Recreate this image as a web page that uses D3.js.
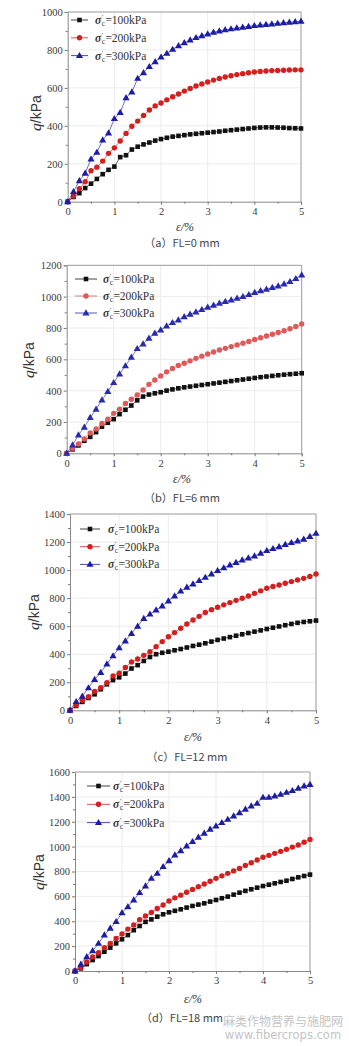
<!DOCTYPE html>
<html><head><meta charset="utf-8">
<script src="https://cdn.jsdelivr.net/npm/d3@7"></script>
<style>
html,body{margin:0;padding:0;background:#fff;}
svg{display:block;}
</style></head>
<body>
<svg id="chart" width="349" height="1046"></svg>
<script>
// ---------- data ----------
const strainPct = [0,0.125,0.25,0.375,0.5,0.625,0.75,0.875,1,1.125,1.25,1.375,1.5,1.625,1.75,1.875,2,2.125,2.25,2.375,2.5,2.625,2.75,2.875,3,3.125,3.25,3.375,3.5,3.625,3.75,3.875,4,4.125,4.25,4.375,4.5,4.625,4.75,4.875,5];

const seriesNames = ["100kPa","200kPa","300kPa"];
const captions = ["（a）FL=0 mm","（b）FL=6 mm","（c）FL=12 mm","（d）FL=18 mm"];
const xTicks = [0,1,2,3,4,5];
const yTicksA = [0,200,400,600,800,1000];
const yTicksB = [0,200,400,600,800,1000,1200];
const yTicksC = [0,200,400,600,800,1000,1200,1400];
const yTicksD = [0,200,400,600,800,1000,1200,1400,1600];

// (a) FL=0 mm
const qA100 = [0,25,45,72,95,120,145,168,185,235,245,275,290,302,312,322,330,337,343,347,351,355,358,361,364,367,370,374,377,380,383,386,389,391,392,392,391,390,388,387,386];
const qA200 = [0,30,68,105,163,182,214,255,284,320,360,398,425,455,483,505,520,537,553,568,583,597,610,621,631,641,650,657,664,670,675,680,684,687,689,691,692,693,694,695,695];
const qA300 = [0,53,110,150,225,260,325,362,438,470,548,578,650,680,712,738,762,782,803,822,838,852,865,875,884,893,900,906,911,916,920,924,928,931,934,937,940,943,946,949,951];
// (b) FL=6 mm
const qB100 = [0,25,50,80,105,135,170,195,218,250,278,305,338,362,375,383,390,400,408,415,421,426,431,436,441,446,451,456,461,466,471,476,481,486,490,494,498,502,505,508,511];
const qB200 = [0,32,60,92,130,155,190,217,255,281,318,345,372,404,440,468,494,520,542,560,575,590,606,620,634,647,659,670,681,692,703,714,726,738,749,760,771,782,795,810,826];
const qB300 = [0,53,117,166,228,281,340,394,451,506,558,613,668,698,734,766,787,813,834,851,872,887,902,917,932,945,958,969,979,990,1000,1013,1026,1037,1047,1058,1068,1081,1096,1115,1138];
// (c) FL=12 mm
const qC100 = [0,31,60,88,114,150,185,215,235,262,298,322,352,380,400,410,418,428,437,448,459,468,478,490,502,512,522,532,542,551,561,570,580,589,598,607,616,624,630,635,640];
const qC200 = [0,38,72,97,135,162,197,245,265,305,345,366,392,418,454,490,525,554,585,615,644,670,697,718,735,752,768,784,799,815,834,852,870,883,894,906,918,930,941,955,972];
const qC300 = [0,62,100,160,220,270,330,388,445,494,548,600,655,686,715,744,780,815,850,877,901,925,948,972,996,1016,1036,1054,1072,1086,1100,1120,1139,1153,1167,1182,1196,1208,1220,1240,1262];
// (d) FL=18 mm
const qD100 = [0,21,55,88,120,155,188,222,255,289,328,362,395,415,437,456,472,484,496,510,523,534,544,558,571,585,598,614,630,644,657,670,683,694,705,716,726,740,753,764,775];
const qD200 = [0,29,72,112,147,188,222,262,297,337,370,412,442,470,503,531,563,588,610,633,656,678,699,722,745,765,785,805,825,848,870,892,914,930,946,962,978,996,1013,1036,1058];
const qD300 = [0,54,115,163,222,289,343,397,469,517,571,630,683,745,785,839,887,933,967,1005,1040,1075,1107,1139,1166,1193,1219,1246,1273,1300,1327,1348,1396,1396,1407,1420,1436,1450,1469,1487,1500];

// ---------- layout / style ----------
const panels = [
  {series:[qA100,qA200,qA300], yTicks:yTicksA, box:{l:67.7,r:301,t:12,b:201.7}, red:"#d41f1f", blue:"#1c1ca6",
   legend:{x1:71,x2:88,tx:95,y0:20,dy:17.8}, ylab:{x:41,y:113}, xlab:{x:185,y:231}, cap:{x:182,y:247}},
  {series:[qB100,qB200,qB300], yTicks:yTicksB, box:{l:66.7,r:301.7,t:265.3,b:453.3}, red:"#e05858", blue:"#2a2ab0",
   legend:{x1:75,x2:97,tx:103,y0:279,dy:17}, ylab:{x:34,y:360}, xlab:{x:182,y:483}, cap:{x:182,y:502}},
  {series:[qC100,qC200,qC300], yTicks:yTicksC, box:{l:70,r:316,t:514,b:710.3}, red:"#d41f1f", blue:"#1c1ca6",
   legend:{x1:80,x2:100,tx:108,y0:529,dy:17.7}, ylab:{x:39,y:612}, xlab:{x:193,y:741}, cap:{x:187,y:761}},
  {series:[qD100,qD200,qD300], yTicks:yTicksD, box:{l:75,r:310,t:772,b:971}, red:"#d41f1f", blue:"#1c1ca6",
   legend:{x1:87,x2:110,tx:113,y0:786,dy:18.3}, ylab:{x:44,y:872}, xlab:{x:193,y:1003}, cap:{x:182,y:1022}}
];
const serif = "'Liberation Serif','DejaVu Serif',serif";

const svg = d3.select("#chart");

function marker(g, kind, x, y, color) {
  if (kind === 0) {
    g.append("rect").attr("x", x-2.3).attr("y", y-2.3).attr("width", 4.6).attr("height", 4.6).attr("fill", color);
  } else if (kind === 1) {
    g.append("circle").attr("cx", x).attr("cy", y).attr("r", 2.7).attr("fill", color);
  } else {
    g.append("path").attr("d", d3.symbol(d3.symbolTriangle, 22)()).attr("transform", `translate(${x},${y+0.4})`).attr("fill", color);
  }
}

panels.forEach((p, pi) => {
  const yMax = p.yTicks[p.yTicks.length-1];
  const x = d3.scaleLinear().domain([0,5]).range([p.box.l, p.box.r]);
  const y = d3.scaleLinear().domain([0,yMax]).range([p.box.b, p.box.t]);
  const g = svg.append("g");
  const colors = ["#111", p.red, p.blue];

  // grid
  g.append("g").selectAll("line").data(xTicks.slice(1,-1)).join("line")
    .attr("x1", d=>x(d)).attr("x2", d=>x(d)).attr("y1", p.box.t).attr("y2", p.box.b)
    .attr("stroke", "#ececec").attr("stroke-width", 1);
  g.append("g").selectAll("line").data(p.yTicks.slice(1,-1)).join("line")
    .attr("y1", d=>y(d)).attr("y2", d=>y(d)).attr("x1", p.box.l).attr("x2", p.box.r)
    .attr("stroke", "#ececec").attr("stroke-width", 1);

  // axes
  const step = p.yTicks[1]-p.yTicks[0];
  const yMinor = d3.range(step/2, yMax, step).filter(v => p.yTicks.indexOf(v) < 0);
  const xMinor = [0.5,1.5,2.5,3.5,4.5];

  g.append("g").attr("transform", `translate(0,${p.box.b})`)
    .call(d3.axisBottom(x).tickValues(xTicks).tickFormat(d3.format("d")).tickSize(3).tickPadding(3))
    .attr("font-family", serif);
  g.append("g").attr("transform", `translate(0,${p.box.b})`)
    .call(d3.axisBottom(x).tickValues(xMinor).tickFormat("").tickSize(2))
    .call(a => a.select(".domain").remove());
  g.append("g").attr("transform", `translate(${p.box.l},0)`)
    .call(d3.axisLeft(y).tickValues(p.yTicks).tickFormat(d3.format("d")).tickSize(3).tickPadding(2))
    .attr("font-family", serif);
  g.append("g").attr("transform", `translate(${p.box.l},0)`)
    .call(d3.axisLeft(y).tickValues(yMinor).tickFormat("").tickSize(2))
    .call(a => a.select(".domain").remove());
  g.selectAll(".tick line").attr("stroke", "#777");
  g.selectAll(".domain").attr("stroke", "#888");
  g.selectAll(".tick text").attr("font-family", serif).attr("font-size", 10.5).attr("fill", "#3a3a3a");

  // frame top/right
  g.append("line").attr("x1", p.box.l).attr("x2", p.box.r).attr("y1", p.box.t).attr("y2", p.box.t).attr("stroke", "#999");
  g.append("line").attr("x1", p.box.r).attr("x2", p.box.r).attr("y1", p.box.t).attr("y2", p.box.b).attr("stroke", "#999");

  // series
  p.series.forEach((vals, si) => {
    const pts = strainPct.map((s, i) => [x(s), y(vals[i])]);
    g.append("path").attr("d", d3.line()(pts)).attr("fill", "none")
      .attr("stroke", colors[si]).attr("stroke-width", 0.8).attr("opacity", 0.8);
    const mg = g.append("g");
    pts.forEach(pt => marker(mg, si, pt[0], pt[1], colors[si]));
  });

  // legend
  seriesNames.forEach((name, si) => {
    const ly = p.legend.y0 + si * p.legend.dy;
    g.append("line").attr("x1", p.legend.x1).attr("x2", p.legend.x2).attr("y1", ly).attr("y2", ly)
      .attr("stroke", colors[si]).attr("stroke-width", 0.8);
    marker(g, si, (p.legend.x1+p.legend.x2)/2, ly, colors[si]);
    const t = g.append("text").attr("x", p.legend.tx).attr("y", ly+4)
      .attr("font-family", serif).attr("font-size", 11.5).attr("fill", "#333");
    t.append("tspan").attr("font-style", "italic").attr("font-weight", "bold").text("σ");
    t.append("tspan").attr("dx", 0.5).attr("dy", -5).attr("font-size", 7).text("′");
    t.append("tspan").attr("dx", -1.5).attr("dy", 7).attr("font-size", 7.5).text("c");
    t.append("tspan").attr("dx", 0.3).attr("dy", -2).text("=" + name);
  });

  // axis titles
  const yl = g.append("text").attr("transform", `translate(${p.ylab.x},${p.ylab.y}) rotate(-90)`)
    .attr("text-anchor", "middle").attr("font-family", "'Liberation Sans',Arial,sans-serif")
    .attr("font-size", 14).attr("fill", "#333");
  yl.append("tspan").attr("font-style", "italic").attr("font-family", serif).attr("font-size", 15.5).text("q");
  yl.append("tspan").text("/kPa");

  g.append("text").attr("x", p.xlab.x).attr("y", p.xlab.y).attr("text-anchor", "middle")
    .attr("font-family", serif).attr("font-size", 12).attr("font-style", "italic").attr("fill", "#333")
    .text("ε/%");

  // caption
  g.append("text").attr("x", p.cap.x).attr("y", p.cap.y).attr("text-anchor", "middle")
    .attr("font-family", "'Noto Sans CJK SC','DejaVu Serif',serif").attr("font-size", 11).attr("fill", "#444")
    .text(captions[pi]);
});

// watermark
svg.append("text").attr("x", 283).attr("y", 1026).attr("text-anchor", "middle")
  .attr("font-family", "'Noto Sans CJK SC',sans-serif").attr("font-size", 12).attr("fill", "#c4c4c4")
  .text("麻类作物营养与施肥网");
svg.append("text").attr("x", 283).attr("y", 1039).attr("text-anchor", "middle")
  .attr("font-family", "'DejaVu Sans',sans-serif").attr("font-size", 11.5).attr("fill", "#c4c4c4")
  .text("www.fibercrops.com");
</script>
</body></html>
